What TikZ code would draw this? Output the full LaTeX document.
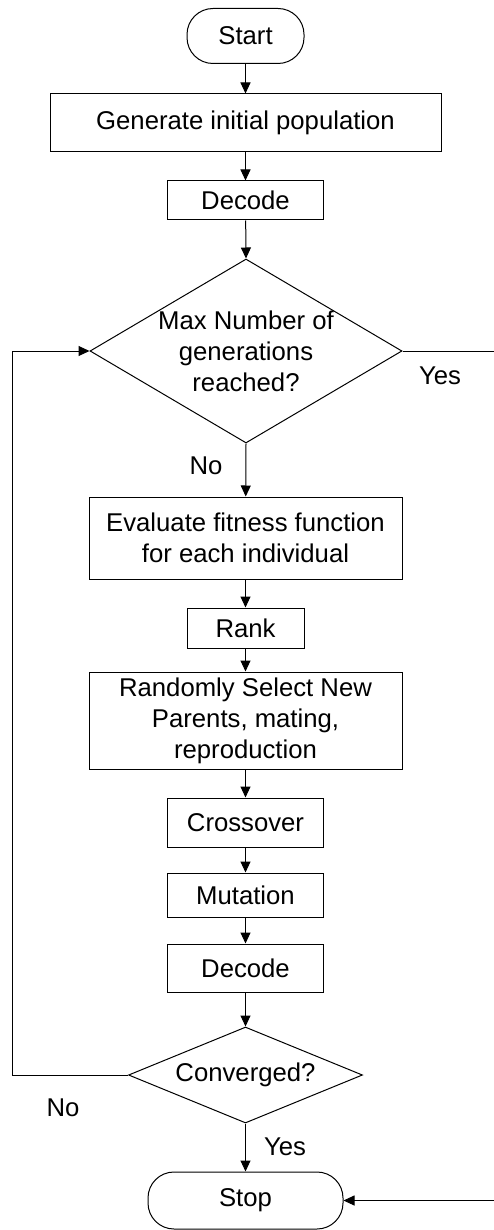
\documentclass[tikz,border=0pt]{standalone}
\usepackage{fontspec}
\setmainfont{Liberation Sans}
\usepackage{tikz}
\usetikzlibrary{arrows.meta, shapes.geometric}

\begin{document}
\begin{tikzpicture}[x=1pt, y=1pt, line width=1pt,
      every node/.style={font=\fontsize{25.7}{31}\selectfont},
      proc/.style={draw, inner sep=0pt, align=center, minimum height=40pt},
      term/.style={draw, inner sep=0pt, rounded corners=26pt, minimum height=55pt},
      decision/.style={draw, diamond, inner sep=0pt, align=center},
      flow/.style={-{Triangle[length=11pt, width=10pt]}}]
      \useasboundingbox (0,0) rectangle (494,-1230);
      % Main column
      \node[term, minimum width=117pt] (start) at (245.5,-36)  {Start};
      \node[proc, minimum width=391pt, minimum height=58pt] (init) at (245.5,-123) {Generate initial population};
      \node[proc, minimum width=156pt, minimum height=39pt] (dec1) at (245.5,-200.5) {Decode};
      \node[decision, aspect=1.7, inner sep=-14pt, minimum width=312pt, minimum height=184pt] (maxgen) at (246,-351)
            {Max Number of\\generations\\reached?};
      \node[proc, minimum width=313pt, minimum height=82pt] (eval) at (245.5,-538) {Evaluate fitness function\\for each individual};
      \node[proc, minimum width=117pt, minimum height=40pt] (rank) at (245.5,-628) {Rank};
      \node[proc, minimum width=313pt, minimum height=97pt] (select) at (245.5,-720.5) {Randomly Select New\\Parents, mating,\\reproduction};
      \node[proc, minimum width=156pt, minimum height=49pt] (cross) at (245.5,-822.5) {Crossover};
      \node[proc, minimum width=156pt, minimum height=44pt] (mut) at (245.5,-895) {Mutation};
      \node[proc, minimum width=156pt, minimum height=48pt] (dec2) at (245.5,-968) {Decode};
      \node[decision, aspect=2.44, minimum width=234pt, minimum height=96pt] (conv) at (245.5,-1075) {Converged?};
      \node[term, minimum width=195pt, minimum height=57pt] (stop) at (245.5,-1200.5) {Stop};
      % Loose ends at the right edge
      \coordinate (yesout) at (494,-351);
      \coordinate (stopin) at (494,-1200.5);
      \coordinate (loopbot) at (12,-1075);
      \coordinate (looptop) at (12,-351);
      % Arrows
      \draw[flow] (start) -- (init);
      \draw[flow] (init) -- (dec1);
      \draw[flow] (dec1) -- (maxgen.north);
      \draw[flow] (maxgen.south) -- (eval);
      \draw[flow] (eval) -- (rank);
      \draw[flow] (rank) -- (select);
      \draw[flow] (select) -- (cross);
      \draw[flow] (cross) -- (mut);
      \draw[flow] (mut) -- (dec2);
      \draw[flow] (dec2) -- (conv.north);
      \draw[flow] (conv.south) -- (stop);
      \draw[flow] (conv.west) -- (loopbot) -- (looptop) -- (maxgen.west);
      \draw (maxgen.east) -- (yesout);
      \draw[flow] (stopin) -- (stop.east);
      % Branch labels
      \node (yes1) at (440,-376)  {Yes};
      \node (no1)  at (206,-466)  {No};
      \node (no2)  at (63,-1108)  {No};
      \node (yes2) at (285,-1147) {Yes};
    \end{tikzpicture}
\end{document}
